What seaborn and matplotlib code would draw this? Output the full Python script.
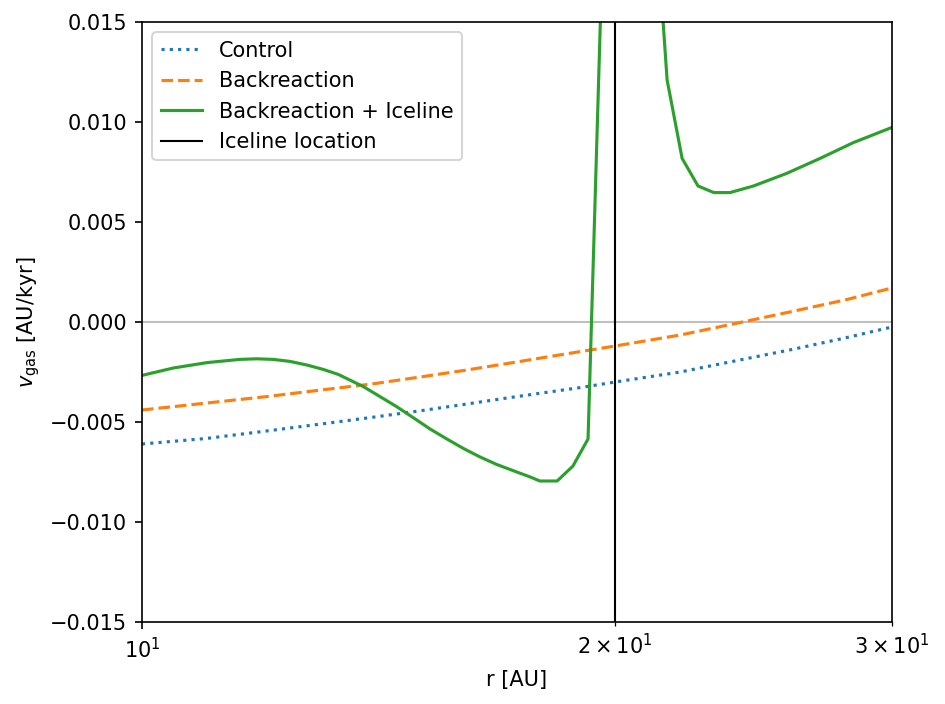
import matplotlib
matplotlib.use("Agg")
import matplotlib.pyplot as plt
import seaborn as sns

# Control run
r_control = [10, 11, 12, 13, 14, 15, 16, 17, 18, 19, 20, 22, 24, 26, 28, 30]
v_control = [-0.0061, -0.00582, -0.00545, -0.0051, -0.00477, -0.00445, -0.00413,
             -0.00382, -0.00354, -0.00328, -0.0030, -0.0025, -0.0019, -0.00135,
             -0.0008, -0.00025]

# Backreaction run
r_back = [10, 11, 12, 13, 14, 15, 16, 17, 18, 19, 20, 22, 24, 26, 28, 30]
v_back = [-0.0044, -0.00405, -0.00373, -0.0034, -0.0031, -0.00276, -0.00243,
          -0.0021, -0.00178, -0.00148, -0.0012, -0.00065, -0.00003, 0.00055,
          0.0011, 0.0017]

# Backreaction + Iceline run
r_ice = [10.00, 10.47, 11.00, 11.54, 11.83, 12.12, 12.42, 12.73, 13.04, 13.33,
         13.83, 14.52, 14.87, 15.25, 15.63, 16.01, 16.41, 16.81, 17.22, 17.66,
         17.91, 18.37, 18.80, 19.22, 19.68, 20.14, 20.62, 21.08, 21.58, 22.06,
         22.58, 23.11, 23.66, 24.49, 25.71, 27.00, 28.35, 30.00]
v_ice = [-0.00267, -0.0023, -0.00203, -0.00187, -0.00184, -0.00187, -0.00197,
         -0.00215, -0.00237, -0.00262, -0.00323, -0.00423, -0.00477, -0.00535,
         -0.00585, -0.00632, -0.00675, -0.00712, -0.00743, -0.00775, -0.00795,
         -0.00795, -0.0072, -0.00585, 0.0215, 0.040, 0.035, 0.0237, 0.0121,
         0.00818, 0.0068, 0.00647, 0.00647, 0.0068, 0.00743, 0.00818, 0.00897,
         0.00973]

iceline_r = 20

fig = plt.figure(figsize=(6.3, 704 / 150), dpi=150)
ax = fig.add_axes([142 / 945, 1 - 622 / 704, 750 / 945, 600 / 704])

ax.axhline(0, color="gray", alpha=0.5, lw=1)
sns.lineplot(x=r_control, y=v_control, ax=ax, color="C0", linestyle=":",
             label="Control", estimator=None, sort=True)
sns.lineplot(x=r_back, y=v_back, ax=ax, color="C1", linestyle="--",
             label="Backreaction", estimator=None, sort=True)
sns.lineplot(x=r_ice, y=v_ice, ax=ax, color="C2", linestyle="-",
             label="Backreaction + Iceline", estimator=None, sort=True)
ax.axvline(iceline_r, color="black", lw=1, label="Iceline location")

ax.set_xscale("log")
ax.set_xlim(10, 30)
ax.set_ylim(-0.015, 0.015)
ax.set_xlabel("r [AU]")
ax.set_ylabel(r"$v_{\rm gas}$ [AU/kyr]")
ax.legend(loc="upper left")

fig.savefig("out.png", dpi=150)
